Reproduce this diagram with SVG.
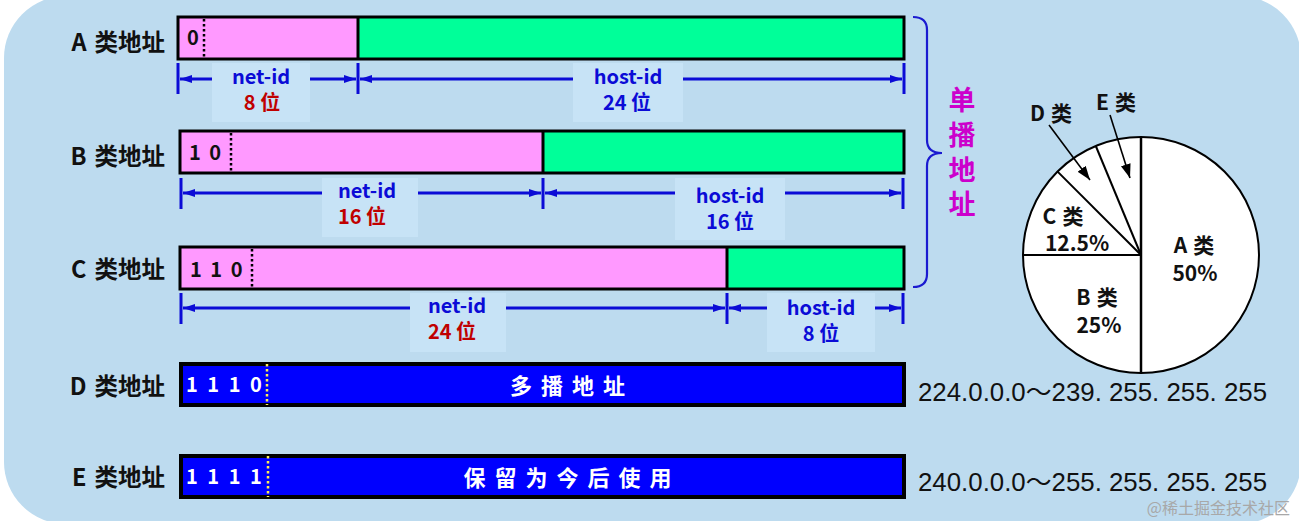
<svg xmlns="http://www.w3.org/2000/svg" width="1299" height="521" viewBox="0 0 1299 521">
<defs>
<style>
.t{font-family:"Noto Sans CJK SC","Noto Sans",sans-serif;font-weight:bold}
.lab{font-size:23.5px;fill:#111;text-anchor:end}
.bits{font-size:20px;fill:#111}
.wbits{font-size:20px;fill:#fff}
.dim{stroke:#0b0bd6;stroke-width:3;fill:none}
.tick{stroke:#0b0bd6;stroke-width:3}
.idt{font-size:20px;fill:#0b0bd6;text-anchor:middle}
.rd{fill:#c00000}
.lbg{fill:#c7e3f6}
.box{stroke:#000;stroke-width:3}
.pk{fill:#ff99ff}
.gr{fill:#00ff99}
.bl{fill:#0000ff;stroke:#000;stroke-width:4}
.pie{font-size:21px;fill:#111;text-anchor:middle}
.uni{font-size:27px;fill:#cc00cc;text-anchor:middle}
.ip{font-family:"Liberation Sans","Noto Sans CJK SC",sans-serif;font-size:25px;fill:#111}
</style>
<marker id="ah" viewBox="0 0 12 8" refX="12" refY="4" markerWidth="12" markerHeight="8" markerUnits="userSpaceOnUse" orient="auto-start-reverse">
<path d="M0,0 L12,4 L0,8 z" fill="#0b0bd6"/>
</marker>
<marker id="bk" viewBox="0 0 14 10" refX="14" refY="5" markerWidth="14" markerHeight="10" markerUnits="userSpaceOnUse" orient="auto">
<path d="M0,0 L14,5 L0,10 z" fill="#000"/>
</marker>
</defs>
<rect x="4" y="-4" width="1297" height="528" rx="62" ry="62" fill="#bddbef"/>

<g id="row-a">
<text class="t lab" x="165" y="51">A<tspan dx="8">类地址</tspan></text>
<rect class="pk" x="178" y="17" width="180" height="42"/>
<rect class="gr" x="358" y="17" width="546" height="42"/>
<rect x="178" y="17" width="726" height="42" fill="none" class="box"/>
<line x1="358" y1="17" x2="358" y2="59" class="box"/>
<line x1="204" y1="19" x2="204" y2="57" stroke="#000" stroke-width="2.5" stroke-dasharray="2.5,2.5"/>
<text class="t bits" x="187" y="45">0</text>
</g>

<g id="row-b">
<text class="t lab" x="165" y="165">B<tspan dx="8">类地址</tspan></text>
<rect class="pk" x="180" y="131" width="363" height="42"/>
<rect class="gr" x="543" y="131" width="361" height="42"/>
<rect x="180" y="131" width="724" height="42" fill="none" class="box"/>
<line x1="543" y1="131" x2="543" y2="173" class="box"/>
<line x1="231" y1="133" x2="231" y2="171" stroke="#000" stroke-width="2.5" stroke-dasharray="2.5,2.5"/>
<text class="t bits" x="189" y="160" letter-spacing="2">1 0</text>
</g>

<g id="row-c">
<text class="t lab" x="165" y="278">C<tspan dx="8">类地址</tspan></text>
<rect class="pk" x="180" y="247" width="547" height="42"/>
<rect class="gr" x="727" y="247" width="177" height="42"/>
<rect x="180" y="247" width="724" height="42" fill="none" class="box"/>
<line x1="727" y1="247" x2="727" y2="289" class="box"/>
<line x1="252" y1="249" x2="252" y2="287" stroke="#000" stroke-width="2.5" stroke-dasharray="2.5,2.5"/>
<text class="t bits" x="190" y="277" letter-spacing="2">1 1 0</text>
</g>

<g id="row-d">
<text class="t lab" x="165" y="395">D<tspan dx="8">类地址</tspan></text>
<rect class="bl" x="181" y="364" width="723" height="41"/>
<line x1="267" y1="364" x2="267" y2="405" stroke="#ffee55" stroke-width="2.5" stroke-dasharray="2.5,2.5"/>
<text class="t wbits" x="186" y="392" letter-spacing="2.5">1 1 1 0</text>
<text class="t" x="572" y="394" font-size="22" fill="#fff" text-anchor="middle" letter-spacing="9">多播地址</text>
<text class="ip" x="918" y="401" textLength="349" lengthAdjust="spacingAndGlyphs">224.0.0.0～239. 255. 255. 255</text>
</g>

<g id="row-e">
<text class="t lab" x="165" y="486">E<tspan dx="8">类地址</tspan></text>
<rect class="bl" x="181" y="456" width="723" height="41"/>
<line x1="268" y1="456" x2="268" y2="497" stroke="#ffee55" stroke-width="2.5" stroke-dasharray="2.5,2.5"/>
<text class="t wbits" x="186" y="484" letter-spacing="2.5">1 1 1 1</text>
<text class="t" x="572" y="486" font-size="22" fill="#fff" text-anchor="middle" letter-spacing="9">保留为今后使用</text>
<text class="ip" x="918" y="491" textLength="349" lengthAdjust="spacingAndGlyphs">240.0.0.0～255. 255. 255. 255</text>
</g>

<g id="unicast">
<text class="t uni"><tspan x="962" y="110">单</tspan><tspan x="962" y="145">播</tspan><tspan x="962" y="180">地</tspan><tspan x="962" y="214">址</tspan></text>
</g>

<g id="pie">
<circle cx="1141" cy="255" r="118" fill="#fff" stroke="#000" stroke-width="2"/>
<line x1="1141" y1="137" x2="1141" y2="373" stroke="#000" stroke-width="2.5"/>
<line x1="1023" y1="255" x2="1141" y2="255" stroke="#000" stroke-width="2"/>
<line x1="1057.6" y1="171.6" x2="1141" y2="255" stroke="#000" stroke-width="2"/>
<line x1="1095.8" y1="146" x2="1141" y2="255" stroke="#000" stroke-width="2"/>
<text class="t pie"><tspan x="1194" y="253">A</tspan><tspan dx="6">类</tspan><tspan x="1195" y="281">50%</tspan></text>
<text class="t pie"><tspan x="1097" y="305">B</tspan><tspan dx="6">类</tspan><tspan x="1099" y="333">25%</tspan></text>
<text class="t pie"><tspan x="1063" y="224">C</tspan><tspan dx="6">类</tspan><tspan x="1077" y="251">12.5%</tspan></text>
<text class="t pie" x="1051" y="121">D<tspan dx="6">类</tspan></text>
<text class="t pie" x="1116" y="110">E<tspan dx="6">类</tspan></text>
</g>

<g id="connectors">
<line class="tick" x1="178" y1="63" x2="178" y2="94"/>
<line class="tick" x1="358" y1="63" x2="358" y2="94"/>
<line class="tick" x1="904" y1="63" x2="904" y2="94"/>
<line class="dim" x1="180" y1="79" x2="356" y2="79" marker-start="url(#ah)" marker-end="url(#ah)"/>
<line class="dim" x1="360" y1="79" x2="902" y2="79" marker-start="url(#ah)" marker-end="url(#ah)"/>
<line class="tick" x1="181" y1="178" x2="181" y2="209"/>
<line class="tick" x1="543" y1="178" x2="543" y2="209"/>
<line class="tick" x1="903" y1="178" x2="903" y2="209"/>
<line class="dim" x1="183" y1="193" x2="541" y2="193" marker-start="url(#ah)" marker-end="url(#ah)"/>
<line class="dim" x1="545" y1="193" x2="901" y2="193" marker-start="url(#ah)" marker-end="url(#ah)"/>
<line class="tick" x1="181" y1="293" x2="181" y2="324"/>
<line class="tick" x1="727" y1="293" x2="727" y2="324"/>
<line class="tick" x1="903" y1="293" x2="903" y2="324"/>
<line class="dim" x1="183" y1="308" x2="725" y2="308" marker-start="url(#ah)" marker-end="url(#ah)"/>
<line class="dim" x1="729" y1="308" x2="901" y2="308" marker-start="url(#ah)" marker-end="url(#ah)"/>
<path d="M913,17 Q927,17 927,30 L927,140 Q927,153 942,153 Q927,153 927,166 L927,274 Q927,287 913,287" fill="none" stroke="#1a1ad0" stroke-width="2.2"/>
<line x1="1049" y1="125" x2="1090" y2="180" stroke="#000" stroke-width="1.6" marker-end="url(#bk)"/>
<line x1="1110" y1="115" x2="1130" y2="178" stroke="#000" stroke-width="1.6" marker-end="url(#bk)"/>
</g>

<g id="dim-labels">
<rect class="lbg" x="212" y="63" width="98" height="59"/>
<text class="t idt"><tspan x="261" y="84">net-id</tspan><tspan class="rd" x="262" y="110">8 位</tspan></text>
<rect class="lbg" x="573" y="63" width="110" height="59"/>
<text class="t idt"><tspan x="628" y="84">host-id</tspan><tspan x="627" y="110">24 位</tspan></text>
<rect class="lbg" x="322" y="178" width="96" height="59"/>
<text class="t idt"><tspan x="367" y="198">net-id</tspan><tspan class="rd" x="362" y="224">16 位</tspan></text>
<rect class="lbg" x="675" y="178" width="110" height="62"/>
<text class="t idt"><tspan x="730" y="203">host-id</tspan><tspan x="730" y="229">16 位</tspan></text>
<rect class="lbg" x="410" y="293" width="96" height="59"/>
<text class="t idt"><tspan x="457" y="313">net-id</tspan><tspan class="rd" x="452" y="339">24 位</tspan></text>
<rect class="lbg" x="767" y="293" width="108" height="59"/>
<text class="t idt"><tspan x="821" y="315">host-id</tspan><tspan x="821" y="341">8 位</tspan></text>
</g>

<text x="1290" y="514" font-family="'Noto Sans CJK SC',sans-serif" font-size="16" fill="#a8a8a8" text-anchor="end">@稀土掘金技术社区</text>
</svg>
